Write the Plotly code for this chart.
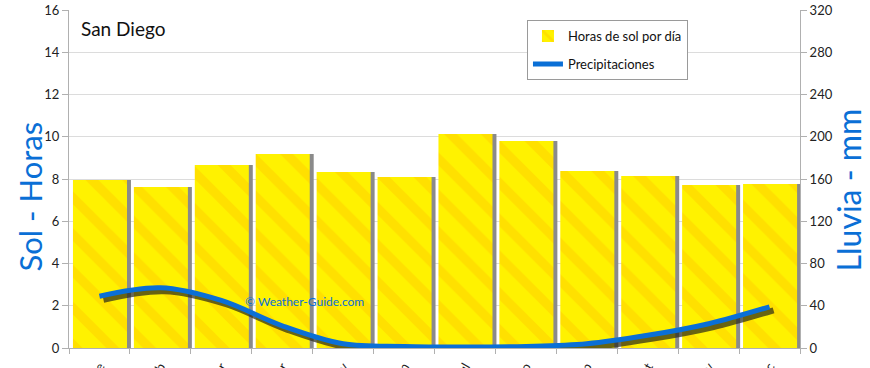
import plotly.graph_objects as go

months = ["Ene", "Feb", "Mar", "Abr", "May", "Jun", "Jul", "Ago", "Sep", "Oct", "Nov", "Dic"]
sun_hours = [7.95, 7.62, 8.66, 9.18, 8.33, 8.09, 10.13, 9.80, 8.38, 8.14, 7.72, 7.76]
rain_mm = [49, 57, 45, 21, 4, 1.5, 1, 1.5, 4, 12, 23, 39]
left_ticks = [0, 2, 4, 6, 8, 10, 12, 14, 16]
right_ticks = [0, 40, 80, 120, 160, 200, 240, 280, 320]

FONT = "Lato"
BLUE = "#0A6FD6"

fig = go.Figure()

# bar shadows
fig.add_trace(go.Bar(
    x=months, y=sun_hours, xaxis="x", yaxis="y",
    offset=-0.37, width=0.887,
    marker=dict(color="#8a8a8a", line=dict(width=0)),
    showlegend=False, hoverinfo="skip",
))
# bars
fig.add_trace(go.Bar(
    x=months, y=sun_hours, xaxis="x", yaxis="y",
    offset=-0.435, width=0.887,
    name="Horas de sol por día", legendgroup="a",
    marker=dict(
        color="#FFF200",
        line=dict(width=0),
        pattern=dict(shape="\\", bgcolor="#FFF200", fgcolor="#FFB000",
                     fgopacity=0.28, size=26, solidity=0.35),
    ),
))
# line shadow
fig.add_trace(go.Scatter(
    x=months, y=rain_mm, xaxis="x2", yaxis="y2", mode="lines",
    line=dict(color="rgba(40,40,25,0.7)", width=6, shape="spline", smoothing=1.0),
    showlegend=False, hoverinfo="skip",
))
# line
fig.add_trace(go.Scatter(
    x=months, y=rain_mm, xaxis="x3", yaxis="y3", mode="lines",
    name="Precipitaciones", legendgroup="b",
    line=dict(color=BLUE, width=5, shape="spline", smoothing=1.0),
))

px_unit_x = 1 / 60.9
px_unit_rain = 320 / 338

fig.update_layout(
    width=870, height=368,
    margin=dict(l=69, r=70, t=10, b=20, autoexpand=False),
    paper_bgcolor="white", plot_bgcolor="white",
    font=dict(family=FONT, size=13, color="#222"),
    barmode="overlay",
    showlegend=True,
    legend=dict(
        x=0.6265, y=0.97, xanchor="left", yanchor="top",
        bgcolor="white", bordercolor="#9a9a9a", borderwidth=1,
        font=dict(family=FONT, size=13, color="#111"),
        itemwidth=30, tracegroupgap=8,
    ),
    xaxis=dict(
        type="category", categoryorder="array", categoryarray=months,
        range=[-0.5, 11.5], automargin=False,
        showgrid=False, showline=True, linecolor="#b0b0b0", linewidth=1,
        ticks="outside", tickson="boundaries", ticklen=5, tickcolor="#b0b0b0",
        tickangle=-60, ticklabelstandoff=5, tickfont=dict(size=13, color="#222"),
        fixedrange=True,
    ),
    xaxis2=dict(
        type="category", categoryorder="array", categoryarray=months,
        overlaying="x", visible=False, automargin=False,
        range=[-0.5 - 4 * px_unit_x, 11.5 - 4 * px_unit_x],
    ),
    xaxis3=dict(
        type="category", categoryorder="array", categoryarray=months,
        overlaying="x", visible=False, range=[-0.5, 11.5], automargin=False,
    ),
    yaxis=dict(
        range=[0, 16], tickvals=left_ticks, automargin=False,
        showgrid=True, gridcolor="#dcdcdc", gridwidth=1,
        showline=True, linecolor="#b0b0b0", linewidth=1,
        ticks="outside", ticklen=6, tickcolor="#b0b0b0",
        zeroline=False, tickfont=dict(size=13, color="#222"),
    ),
    yaxis2=dict(
        overlaying="y", visible=False, automargin=False,
        range=[3.5 * px_unit_rain, 320 + 3.5 * px_unit_rain],
    ),
    yaxis3=dict(
        overlaying="y", side="right", range=[0, 320], tickvals=right_ticks,
        automargin=False,
        showgrid=False, showline=True, linecolor="#b0b0b0", linewidth=1,
        ticks="outside", ticklen=6, tickcolor="#b0b0b0",
        zeroline=False, tickfont=dict(size=13, color="#222"),
    ),
    annotations=[
        dict(text="San Diego", xref="paper", yref="paper", x=0.013, y=0.985,
             xanchor="left", yanchor="top", showarrow=False,
             font=dict(family=FONT, size=19, color="#111")),
        dict(text="© Weather-Guide.com", xref="paper", yref="paper",
             x=0.238, y=0.137, xanchor="left", yanchor="middle", showarrow=False,
             font=dict(family=FONT, size=12, color=BLUE)),
        dict(text="Sol - Horas", xref="paper", yref="paper", x=-0.054, y=0.447,
             xanchor="center", yanchor="middle", textangle=-90, showarrow=False,
             font=dict(family=FONT, size=31, color=BLUE)),
        dict(text="Lluvia - mm", xref="paper", yref="paper", x=1.066, y=0.467,
             xanchor="center", yanchor="middle", textangle=-90, showarrow=False,
             font=dict(family=FONT, size=32, color=BLUE)),
    ],
)

fig.write_html(
    "out.html",
    config={"displayModeBar": False},
    post_script="document.body.style.margin='0';document.body.style.overflow='hidden';",
)
